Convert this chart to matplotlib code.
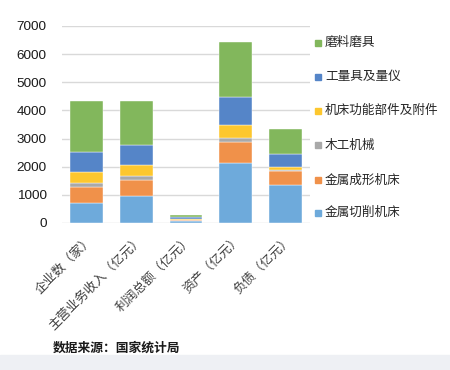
import matplotlib
matplotlib.use("Agg")
import matplotlib.pyplot as plt
import numpy as np
from matplotlib.patches import Rectangle

plt.rcParams['font.family'] = ['Noto Sans CJK SC', 'DejaVu Sans']

categories = ['企业数（家）', '主营业务收入（亿元）', '利润总额（亿元）', '资产（亿元）', '负债（亿元）']
series_names = ['金属切削机床', '金属成形机床', '木工机械', '机床功能部件及附件', '工量具及量仪', '磨料磨具']
metal_cutting = [700, 960, 60, 2125, 1340]
metal_forming = [590, 570, 30, 770, 500]
woodworking = [145, 150, 10, 140, 40]
functional_parts = [365, 385, 50, 455, 120]
measuring_tools = [715, 710, 60, 985, 450]
abrasives = [1825, 1565, 70, 1940, 890]
colors = ['#6eaadb', '#f0914a', '#a9a9a9', '#fdc72e', '#5585c8', '#82b75c']
yticks = [0, 1000, 2000, 3000, 4000, 5000, 6000, 7000]

series = [metal_cutting, metal_forming, woodworking, functional_parts, measuring_tools, abrasives]

fig = plt.figure(figsize=(4.5, 3.7), dpi=100)
ax = fig.add_axes([62/450, 1-223/370, 248/450, 197/370])

x = np.arange(len(categories))
bottom = np.zeros(len(categories))
for vals, c, name in zip(series, colors, series_names):
    ax.bar(x, vals, 0.66, bottom=bottom, color=c, label=name, zorder=3,
           edgecolor='white', linewidth=0.3)
    bottom += np.array(vals)

ax.set_xlim(-0.5, 4.5)
ax.set_ylim(0, 7000)
ax.set_yticks(yticks)
ax.set_yticklabels([str(v) for v in yticks], fontsize=9.7, color='#1a1a1a',
                   family=['Liberation Sans', 'DejaVu Sans'])
ax.yaxis.grid(True, color='#d9d9d9', linewidth=1.0, zorder=0)
ax.tick_params(axis='both', length=0)
ax.tick_params(axis='y', pad=11)
for s in ax.spines.values():
    s.set_visible(False)
ax.set_xticks(x)
ax.set_xticklabels(categories, rotation=45, ha='right', rotation_mode='anchor',
                   fontsize=9.2, color='#404040')
ax.tick_params(axis='x', pad=7)

# legend
leg_y = [42.7, 76.7, 110.5, 145, 180, 212.7]
order = list(range(5, -1, -1))
for yy, i in zip(leg_y, order):
    fig.patches.append(Rectangle((315/450, 1-(yy+3)/370), 6/450, 6/370,
                                 transform=fig.transFigure, color=colors[i], figure=fig))
    fig.text(325/450, 1-yy/370, series_names[i], fontsize=9.1, color='#262626',
             va='center', ha='left')

fig.text(53/450, 1-348/370, '数据来源：国家统计局', fontsize=9.2, fontweight='bold',
         color='#1a1a1a', va='center', ha='left')

fig.patches.append(Rectangle((0, 0), 1, 15/370, transform=fig.transFigure,
                             color='#eef0f4', figure=fig, zorder=-1))

fig.savefig('out.png', dpi=100)
